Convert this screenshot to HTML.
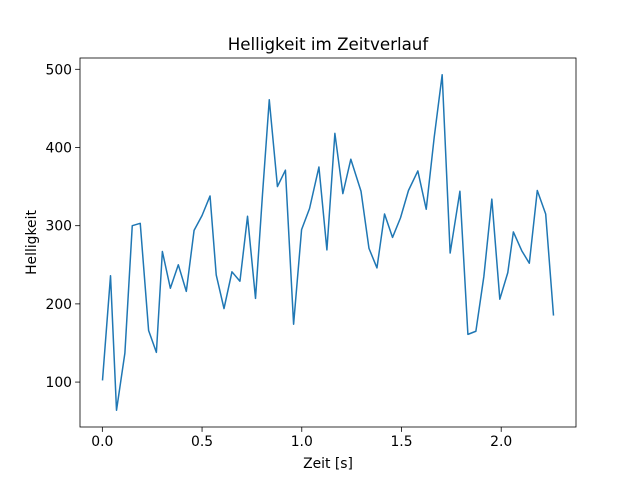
<!DOCTYPE html>
<html><head><meta charset="utf-8"><style>body{margin:0;background:#fff}svg{display:block;font-family:"DejaVu Sans","Liberation Sans",sans-serif}</style></head>
<body>
<svg id="chart" width="640" height="480"></svg>
<script>
const times=[0.001,0.041,0.071,0.113,0.150,0.190,0.232,0.271,0.301,0.341,0.381,0.421,0.460,0.500,0.540,0.571,0.610,0.650,0.690,0.728,0.768,0.803,0.837,0.878,0.918,0.959,0.999,1.039,1.086,1.126,1.166,1.206,1.246,1.297,1.337,1.377,1.415,1.455,1.495,1.535,1.582,1.624,1.664,1.704,1.744,1.793,1.833,1.873,1.913,1.953,1.993,2.033,2.061,2.103,2.141,2.181,2.223,2.262];
const brightness=[103,236,64,137,300,303,166,138,267,220,250,216,294,313,338,237,194,241,229,312,207,340,461,350,371,174,295,322,375,269,418,341,385,344,271,246,315,285,310,345,370,321,413,493,265,344,161,165,235,334,206,240,292,268,252,345,315,186];
const xTicks=[0.0,0.5,1.0,1.5,2.0];
const xTickLabels=["0.0","0.5","1.0","1.5","2.0"];
const yTicks=[100,200,300,400,500];
const yTickLabels=["100","200","300","400","500"];
const NS="http://www.w3.org/2000/svg";
const svg=document.getElementById('chart');
const L=80,R=576,T=58,B=427;
const xmin=Math.min(...times),xmax=Math.max(...times),xm=(xmax-xmin)*0.05;
const ymin=Math.min(...brightness),ymax=Math.max(...brightness),ym=(ymax-ymin)*0.05;
const sx=x=>L+(x-(xmin-xm))/((xmax+xm)-(xmin-xm))*(R-L);
const sy=y=>B-(y-(ymin-ym))/((ymax+ym)-(ymin-ym))*(B-T);
function mk(t,a){const e=document.createElementNS(NS,t);for(const k in a)e.setAttribute(k,a[k]);svg.appendChild(e);return e;}
let d=brightness.map((v,i)=>(i?'L':'M')+sx(times[i]).toFixed(2)+','+sy(v).toFixed(2)).join('');
const line=mk('path',{d:d,fill:'none',stroke:'#1f77b4','stroke-width':1.5,'stroke-linejoin':'round','stroke-linecap':'square'});


const frame=mk('rect',{x:L,y:T,width:R-L,height:B-T,fill:'none',stroke:'#000','stroke-width':0.8});


xTicks.forEach((t,i)=>{const x=sx(t);
const tk=mk('line',{x1:x,x2:x,y1:B,y2:B+4.9,stroke:'#000','stroke-width':0.8});


const tx=mk('text',{x:x,y:B+19,'font-size':13.9,'text-anchor':'middle'});tx.textContent=xTickLabels[i];

});
yTicks.forEach((t,i)=>{const y=sy(t);
const tk=mk('line',{x1:L-4.9,x2:L,y1:y,y2:y,stroke:'#000','stroke-width':0.8});


const tx=mk('text',{x:L-8,y:y+5,'font-size':13.9,'text-anchor':'end'});tx.textContent=yTickLabels[i];

});
const title=mk('text',{x:(L+R)/2,y:50,'font-size':16.7,'text-anchor':'middle'});title.textContent='Helligkeit im Zeitverlauf';


const xl=mk('text',{x:(L+R)/2,y:468,'font-size':13.9,'text-anchor':'middle'});xl.textContent='Zeit [s]';


const yl=mk('text',{x:0,y:0,'font-size':13.9,'text-anchor':'middle',transform:'translate(36,'+((T+B)/2)+') rotate(-90)'});yl.textContent='Helligkeit';


</script>
</body></html>
